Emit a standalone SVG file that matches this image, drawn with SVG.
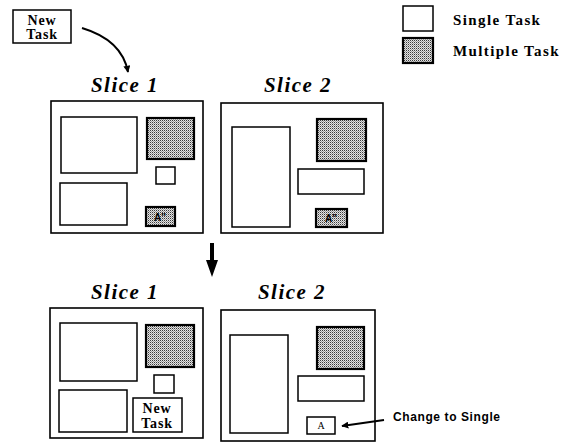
<svg xmlns="http://www.w3.org/2000/svg" width="576" height="443" viewBox="0 0 576 443">
<defs>
<pattern id="stip" width="2" height="2" patternUnits="userSpaceOnUse">
<rect width="2" height="2" fill="#e4e4e4"/>
<rect x="0" y="0" width="1" height="1" fill="#3a3a3a"/>
<rect x="1" y="1" width="1" height="1" fill="#9a9a9a"/>
</pattern>
<marker id="ah" viewBox="0 0 10 10" refX="9" refY="5" markerWidth="7" markerHeight="7" orient="auto" markerUnits="userSpaceOnUse">
<path d="M0,0 L10,5 L0,10 z" fill="#000"/>
</marker>
</defs>
<style>
.frame{fill:#fff;stroke:#000;stroke-width:1.6}
.single{fill:#fff;stroke:#000;stroke-width:1.5}
.multi{fill:url(#stip);stroke:#000;stroke-width:2.2}
.title{font-family:"Liberation Serif",serif;font-weight:bold;font-style:italic;font-size:21px;letter-spacing:1.5px;text-anchor:middle}
.lbl{font-family:"Liberation Serif",serif;font-weight:bold;font-size:15px;letter-spacing:1.4px}
.nt{font-family:"Liberation Serif",serif;font-weight:bold;font-size:14px;letter-spacing:0.8px;text-anchor:middle}
.ch{font-family:"Liberation Sans",Arial,sans-serif;font-weight:bold;font-size:12px;letter-spacing:0.6px}
.a{font-family:"Liberation Sans",Arial,sans-serif;font-weight:bold;font-size:10px;text-anchor:middle}
.conn{fill:none;stroke:#000;stroke-width:2}
</style>
<rect width="576" height="443" fill="#fff"/>

<g id="new-task-top">
<rect class="single" x="13" y="10" width="58" height="33"/>
<text class="nt" x="42" y="25">New</text>
<text class="nt" x="42" y="39">Task</text>
</g>

<g id="legend">
<rect class="single" x="403" y="6" width="30" height="25"/>
<text class="lbl" x="453" y="25">Single Task</text>
<rect class="multi" x="403" y="38" width="30" height="25"/>
<text class="lbl" x="453" y="56">Multiple Task</text>
</g>

<g id="slice1-top">
<text class="title" x="125" y="92">Slice 1</text>
<rect class="frame" x="51" y="101" width="152" height="132"/>
<rect class="single" x="61" y="117" width="76" height="56"/>
<rect class="multi" x="147" y="118" width="47" height="41"/>
<rect class="single" x="156" y="167" width="19" height="17"/>
<rect class="single" x="60" y="183" width="67" height="42"/>
<rect class="multi" x="146" y="207" width="29" height="19"/>
<text class="a" x="160" y="221">A''</text>
</g>

<g id="slice2-top">
<text class="title" x="298" y="92">Slice 2</text>
<rect class="frame" x="221" y="103" width="162" height="130"/>
<rect class="single" x="232" y="127" width="58" height="100"/>
<rect class="multi" x="317" y="119" width="49" height="42"/>
<rect class="single" x="298" y="169" width="66" height="25"/>
<rect class="multi" x="316" y="209" width="31" height="18"/>
<text class="a" x="331" y="222">A''</text>
</g>

<g id="slice1-bottom">
<text class="title" x="125" y="299">Slice 1</text>
<rect class="frame" x="50" y="308" width="153" height="130"/>
<rect class="single" x="60" y="323" width="77" height="58"/>
<rect class="multi" x="146" y="325" width="48" height="42"/>
<rect class="single" x="154" y="375" width="20" height="18"/>
<rect class="single" x="59" y="390" width="68" height="42"/>
<rect class="single" x="133" y="398" width="49" height="34"/>
<text class="nt" x="157" y="413">New</text>
<text class="nt" x="157" y="428">Task</text>
</g>

<g id="slice2-bottom">
<text class="title" x="292" y="299">Slice 2</text>
<rect class="frame" x="221" y="310" width="154" height="131"/>
<rect class="single" x="230" y="335" width="58" height="98"/>
<rect class="multi" x="317" y="327" width="47" height="42"/>
<rect class="single" x="298" y="376" width="66" height="25"/>
<rect class="single" x="307" y="417" width="28" height="17"/>
<text class="a" x="321" y="429" style="font-weight:normal;font-family:'Liberation Serif',serif">A</text>
</g>

<g id="change-label">
<text class="ch" x="393" y="421">Change to Single</text>
</g>

<g id="connectors">
<path class="conn" d="M82 28 Q122 40 128 72" marker-end="url(#ah)"/>
<path d="M210 243 L214 243 L214 260 L218 260 L212 277 L206 260 L210 260 z" fill="#000"/>
<path class="conn" d="M384 420 L342 426" stroke-width="1.6" marker-end="url(#ah)"/>
</g>
</svg>
